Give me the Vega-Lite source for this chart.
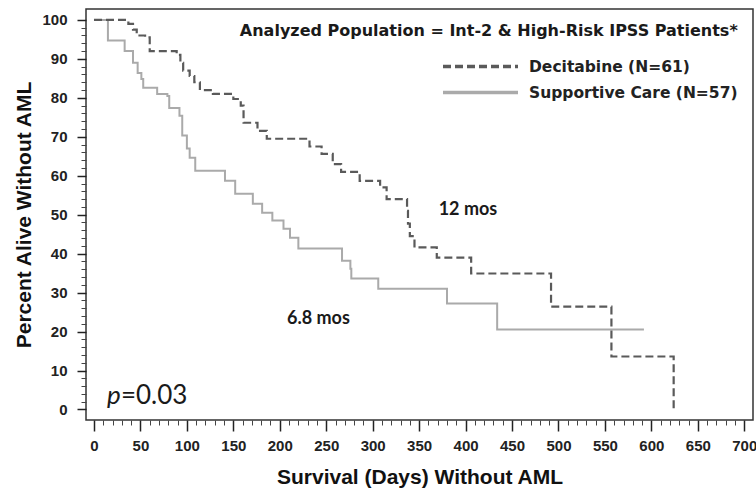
{
  "$schema": "https://vega.github.io/schema/vega-lite/v6.json",
  "width": 667,
  "height": 411,
  "autosize": {"type": "none"},
  "padding": {"left": 86, "top": 9, "right": 3, "bottom": 70},
  "background": "white",
  "config": {"view": {"stroke": "#333", "strokeWidth": 1.5}, "font": "Liberation Sans"},
  "datasets": {
    "km": [
      {"group": "Decitabine (N=61)", "day": 0, "pct": 100},
      {"group": "Decitabine (N=61)", "day": 37, "pct": 99},
      {"group": "Decitabine (N=61)", "day": 42, "pct": 97.5},
      {"group": "Decitabine (N=61)", "day": 46, "pct": 96},
      {"group": "Decitabine (N=61)", "day": 55, "pct": 95.5},
      {"group": "Decitabine (N=61)", "day": 60, "pct": 92},
      {"group": "Decitabine (N=61)", "day": 89, "pct": 91},
      {"group": "Decitabine (N=61)", "day": 93, "pct": 89},
      {"group": "Decitabine (N=61)", "day": 96, "pct": 87},
      {"group": "Decitabine (N=61)", "day": 103, "pct": 85.6},
      {"group": "Decitabine (N=61)", "day": 108, "pct": 84},
      {"group": "Decitabine (N=61)", "day": 114, "pct": 82},
      {"group": "Decitabine (N=61)", "day": 128, "pct": 81},
      {"group": "Decitabine (N=61)", "day": 150, "pct": 79.7},
      {"group": "Decitabine (N=61)", "day": 158, "pct": 78},
      {"group": "Decitabine (N=61)", "day": 161, "pct": 73.6},
      {"group": "Decitabine (N=61)", "day": 176, "pct": 71.5},
      {"group": "Decitabine (N=61)", "day": 186, "pct": 69.5},
      {"group": "Decitabine (N=61)", "day": 232, "pct": 67.5},
      {"group": "Decitabine (N=61)", "day": 245, "pct": 65.6},
      {"group": "Decitabine (N=61)", "day": 257, "pct": 63},
      {"group": "Decitabine (N=61)", "day": 266, "pct": 61},
      {"group": "Decitabine (N=61)", "day": 286, "pct": 58.7},
      {"group": "Decitabine (N=61)", "day": 308, "pct": 57},
      {"group": "Decitabine (N=61)", "day": 315, "pct": 54},
      {"group": "Decitabine (N=61)", "day": 337, "pct": 51},
      {"group": "Decitabine (N=61)", "day": 338, "pct": 47.7},
      {"group": "Decitabine (N=61)", "day": 340, "pct": 44.5},
      {"group": "Decitabine (N=61)", "day": 345, "pct": 41.6},
      {"group": "Decitabine (N=61)", "day": 369, "pct": 39},
      {"group": "Decitabine (N=61)", "day": 406, "pct": 34.9},
      {"group": "Decitabine (N=61)", "day": 492, "pct": 26.4},
      {"group": "Decitabine (N=61)", "day": 557, "pct": 13.6},
      {"group": "Decitabine (N=61)", "day": 624, "pct": 0},
      {"group": "Supportive Care (N=57)", "day": 0, "pct": 100},
      {"group": "Supportive Care (N=57)", "day": 15, "pct": 94.7},
      {"group": "Supportive Care (N=57)", "day": 33, "pct": 92},
      {"group": "Supportive Care (N=57)", "day": 42, "pct": 89},
      {"group": "Supportive Care (N=57)", "day": 47, "pct": 86.4},
      {"group": "Supportive Care (N=57)", "day": 51, "pct": 84.8},
      {"group": "Supportive Care (N=57)", "day": 53, "pct": 82.6},
      {"group": "Supportive Care (N=57)", "day": 68, "pct": 81},
      {"group": "Supportive Care (N=57)", "day": 79, "pct": 80.5},
      {"group": "Supportive Care (N=57)", "day": 81, "pct": 77.4},
      {"group": "Supportive Care (N=57)", "day": 92, "pct": 75.4},
      {"group": "Supportive Care (N=57)", "day": 95, "pct": 70.3},
      {"group": "Supportive Care (N=57)", "day": 100, "pct": 67},
      {"group": "Supportive Care (N=57)", "day": 103, "pct": 64.6},
      {"group": "Supportive Care (N=57)", "day": 109, "pct": 61.3},
      {"group": "Supportive Care (N=57)", "day": 141, "pct": 58.7},
      {"group": "Supportive Care (N=57)", "day": 152, "pct": 55.4},
      {"group": "Supportive Care (N=57)", "day": 171, "pct": 52.8},
      {"group": "Supportive Care (N=57)", "day": 181, "pct": 50.5},
      {"group": "Supportive Care (N=57)", "day": 192, "pct": 48.5},
      {"group": "Supportive Care (N=57)", "day": 204, "pct": 46.4},
      {"group": "Supportive Care (N=57)", "day": 211, "pct": 44.1},
      {"group": "Supportive Care (N=57)", "day": 220, "pct": 41.3},
      {"group": "Supportive Care (N=57)", "day": 267, "pct": 38.2},
      {"group": "Supportive Care (N=57)", "day": 276, "pct": 36.1},
      {"group": "Supportive Care (N=57)", "day": 277, "pct": 33.6},
      {"group": "Supportive Care (N=57)", "day": 306, "pct": 31},
      {"group": "Supportive Care (N=57)", "day": 380, "pct": 27.2},
      {"group": "Supportive Care (N=57)", "day": 434, "pct": 20.5},
      {"group": "Supportive Care (N=57)", "day": 592, "pct": 20.5}
    ],
    "heading": [{"label": "Analyzed Population = Int-2 & High-Risk IPSS Patients*", "day": 693, "pct": 95.75}],
    "medians": [
      {"label": "12 mos", "day": 371, "pct": 49.8},
      {"label": "6.8 mos", "day": 207.7, "pct": 22.0}
    ],
    "pvar": [{"label": "p", "day": 14, "pct": 1.4}],
    "pval": [{"label": "=0.03", "day": 29, "pct": 1.4}]
  },
  "resolve": {"axis": {"x": "independent", "y": "independent"}, "scale": {"color": "independent"}, "legend": {"color": "independent"}},
  "layer": [
    {
      "data": {"name": "km"},
      "transform": [{"filter": "datum.group === 'Supportive Care (N=57)'"}],
      "mark": {"type": "line", "interpolate": "step-after", "strokeWidth": 2},
      "encoding": {
        "x": {
          "field": "day", "type": "quantitative",
          "scale": {"domain": [-8.6, 709.4], "nice": false, "zero": false},
          "axis": {
            "orient": "bottom", "values": [0,50,100,150,200,250,300,350,400,450,500,550,600,650,700],
            "title": "Survival (Days) Without AML", "titleFont": "Liberation Sans", "titleFontSize": 21, "titleFontWeight": "bold", "titleColor": "#111", "titlePadding": 13,
            "domain": false, "grid": false, "offset": 0, "tickSize": 11, "tickColor": "#222", "tickWidth": 1.5,
            "labelFontSize": 15, "labelFontWeight": "bold", "labelColor": "#222", "labelPadding": 7
          }
        },
        "y": {
          "field": "pct", "type": "quantitative",
          "scale": {"domain": [-2.7, 102.8], "nice": false, "zero": false},
          "axis": {
            "orient": "left", "values": [0,10,20,30,40,50,60,70,80,90,100],
            "title": "Percent Alive Without AML", "titleFont": "Liberation Sans", "titleFontSize": 21, "titleFontWeight": "bold", "titleColor": "#111", "titlePadding": 7,
            "domain": false, "grid": false, "tickSize": 9, "tickColor": "#222", "tickWidth": 1.5,
            "labelFontSize": 15, "labelFontWeight": "bold", "labelColor": "#222", "labelPadding": 10
          }
        },
        "color": {
          "field": "group", "type": "nominal",
          "scale": {"domain": ["Supportive Care (N=57)"], "range": ["#aaaaaa"]},
          "legend": {
            "orient": "none", "legendX": 355, "legendY": 44, "title": null,
            "symbolType": "stroke", "symbolSize": 5625, "symbolStrokeWidth": 3.5,
            "labelFont": "DejaVu Sans", "labelFontWeight": "bold", "labelFontSize": 15.5, "labelColor": "#222", "labelOffset": 9, "labelLimit": 400
          }
        }
      }
    },
    {
      "data": {"name": "km"},
      "transform": [{"filter": "datum.group === 'Decitabine (N=61)'"}],
      "mark": {"type": "line", "interpolate": "step-after", "strokeWidth": 2.2, "strokeDash": [8, 4]},
      "encoding": {
        "x": {"field": "day", "type": "quantitative", "axis": null},
        "y": {"field": "pct", "type": "quantitative", "axis": null},
        "color": {
          "field": "group", "type": "nominal",
          "scale": {"domain": ["Decitabine (N=61)"], "range": ["#5a5a5a"]},
          "legend": {
            "orient": "none", "legendX": 355, "legendY": 18, "title": null,
            "symbolType": "stroke", "symbolSize": 5625, "symbolStrokeWidth": 3.5, "symbolDash": [8, 4],
            "labelFont": "DejaVu Sans", "labelFontWeight": "bold", "labelFontSize": 15.5, "labelColor": "#222", "labelOffset": 9, "labelLimit": 400
          }
        }
      }
    },
    {
      "data": {"name": "km"},
      "mark": {"type": "line", "opacity": 0},
      "encoding": {
        "x": {
          "field": "day", "type": "quantitative",
          "axis": {
            "orient": "bottom", "values": [10,20,30,40,60,70,80,90,110,120,130,140,160,170,180,190,210,220,230,240,260,270,280,290,310,320,330,340,360,370,380,390,410,420,430,440,460,470,480,490,510,520,530,540,560,570,580,590,610,620,630,640,660,670,680,690],
            "title": null, "labels": false, "domain": false, "grid": false, "offset": 0, "tickSize": 5, "tickColor": "#444", "tickWidth": 1
          }
        },
        "y": {
          "field": "pct", "type": "quantitative",
          "axis": {
            "orient": "left", "values": [2,4,6,8,12,14,16,18,22,24,26,28,32,34,36,38,42,44,46,48,52,54,56,58,62,64,66,68,72,74,76,78,82,84,86,88,92,94,96,98],
            "title": null, "labels": false, "domain": false, "grid": false, "tickSize": 5, "tickColor": "#444", "tickWidth": 1
          }
        },
        "detail": {"field": "group"}
      }
    },
    {
      "data": {"name": "heading"},
      "mark": {"type": "text", "align": "right", "baseline": "alphabetic", "font": "DejaVu Sans", "fontWeight": "bold", "fontSize": 16, "color": "#1a1a1a"},
      "encoding": {
        "x": {"field": "day", "type": "quantitative", "axis": null},
        "y": {"field": "pct", "type": "quantitative", "axis": null},
        "text": {"field": "label"}
      }
    },
    {
      "data": {"name": "medians"},
      "mark": {"type": "text", "align": "left", "baseline": "alphabetic", "font": "Lato", "fontWeight": "bold", "fontSize": 18, "color": "#1a1a1a"},
      "encoding": {
        "x": {"field": "day", "type": "quantitative", "axis": null},
        "y": {"field": "pct", "type": "quantitative", "axis": null},
        "text": {"field": "label"}
      }
    },
    {
      "data": {"name": "pvar"},
      "mark": {"type": "text", "align": "left", "baseline": "alphabetic", "font": "Lato", "fontStyle": "italic", "fontSize": 26, "color": "#1a1a1a"},
      "encoding": {
        "x": {"field": "day", "type": "quantitative", "axis": null},
        "y": {"field": "pct", "type": "quantitative", "axis": null},
        "text": {"field": "label"}
      }
    },
    {
      "data": {"name": "pval"},
      "mark": {"type": "text", "align": "left", "baseline": "alphabetic", "font": "Lato", "fontSize": 26, "color": "#1a1a1a"},
      "encoding": {
        "x": {"field": "day", "type": "quantitative", "axis": null},
        "y": {"field": "pct", "type": "quantitative", "axis": null},
        "text": {"field": "label"}
      }
    }
  ]
}
